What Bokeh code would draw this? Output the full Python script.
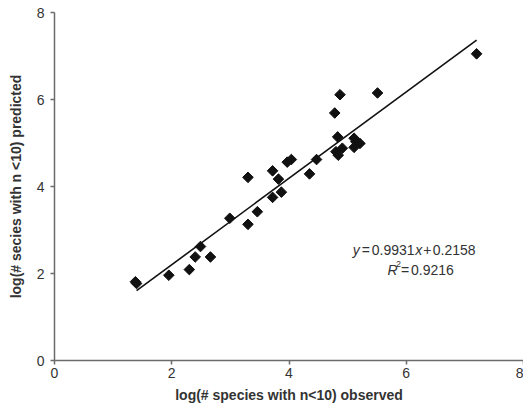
import numpy as np
from bokeh.plotting import figure
from bokeh.models import Range1d, FixedTicker, Label, ColumnDataSource
from bokeh.embed import file_html
from bokeh.resources import INLINE

# observed (x) and predicted (y) log species counts
observed = [1.38, 1.40, 1.95, 2.30, 2.40, 2.49, 2.66, 2.99, 3.30, 3.30,
            3.46, 3.72, 3.72, 3.82, 3.87, 3.97, 4.04, 4.35, 4.47, 4.78,
            4.87, 4.83, 4.80, 4.84, 4.91, 5.11, 5.14, 5.21, 5.11, 5.51, 7.20]
predicted = [1.81, 1.77, 1.96, 2.09, 2.38, 2.62, 2.38, 3.27, 4.21, 3.13,
             3.42, 4.36, 3.75, 4.17, 3.87, 4.56, 4.62, 4.29, 4.62, 5.69,
             6.11, 5.14, 4.80, 4.72, 4.88, 5.11, 5.03, 4.99, 4.90, 6.15, 7.05]
slope = 0.9931
intercept = 0.2158
r_squared = 0.9216
fit_x = [1.4, 7.2]
ticks = [0, 2, 4, 6, 8]

FONT = "Liberation Sans"

p = figure(width=523, height=410, output_backend="svg", toolbar_location=None,
           x_range=Range1d(0, 8), y_range=Range1d(0, 8),
           min_border_left=54, min_border_right=0, min_border_top=12, min_border_bottom=50)
p.outline_line_color = None
p.grid.visible = False
p.background_fill_color = "white"
p.border_fill_color = "white"

for ax in (p.xaxis[0], p.yaxis[0]):
    ax.ticker = FixedTicker(ticks=ticks)
    ax.axis_line_color = "#6b6b6b"
    ax.axis_line_width = 1.5
    ax.major_tick_line_color = "#6b6b6b"
    ax.major_tick_line_width = 1.5
    ax.major_tick_out = 4
    ax.major_tick_in = 0
    ax.minor_tick_line_color = None
    ax.major_label_text_font = FONT
    ax.major_label_text_font_size = "14px"
    ax.major_label_text_color = "#333333"
    ax.axis_label_text_font = FONT
    ax.axis_label_text_font_size = "14px"
    ax.axis_label_text_font_style = "bold"
    ax.axis_label_text_color = "#333333"

p.xaxis.axis_label = "log(# species with n<10) observed"
p.yaxis.axis_label = "log(# secies with n <10) predicted"
p.xaxis.major_label_standoff = 3
p.yaxis.major_label_standoff = 6
p.xaxis.axis_label_standoff = 6
p.yaxis.axis_label_standoff = 10

fit_y = [slope * v + intercept for v in fit_x]
p.line(fit_x, fit_y, line_color="#111111", line_width=1.6)

src = ColumnDataSource(dict(x=observed, y=predicted))
p.scatter("x", "y", source=src, marker="square", size=7.5, angle=np.pi / 4,
          fill_color="#111111", line_color="#111111")

# equation annotation
fs = "14px"
def lab(x, y, text, dx, style="normal", size=fs, dy=0):
    p.add_layout(Label(x=x, y=y, x_offset=dx, y_offset=dy, text=text,
                       text_font=FONT, text_font_size=size, text_font_style=style,
                       text_color="#333333", text_baseline="alphabetic"))

ex, ey = 5.087, 2.55
lab(ex, ey, "y", 0, "italic")
lab(ex, ey, "=", 9)
lab(ex, ey, "%.4f" % slope, 19)
lab(ex, ey, "x", 62.5, "italic")
lab(ex, ey, "+", 70.5)
lab(ex, ey, "%.4f" % intercept, 80)

rx, ry = 5.68, 2.09
lab(rx, ry, "R", 0, "italic")
lab(rx, ry, "2", 8.5, size="9px", dy=6)
lab(rx, ry, "=", 13.5)
lab(rx, ry, "%.4f" % r_squared, 23.5)

open("out.html", "w").write(file_html(p, INLINE))
